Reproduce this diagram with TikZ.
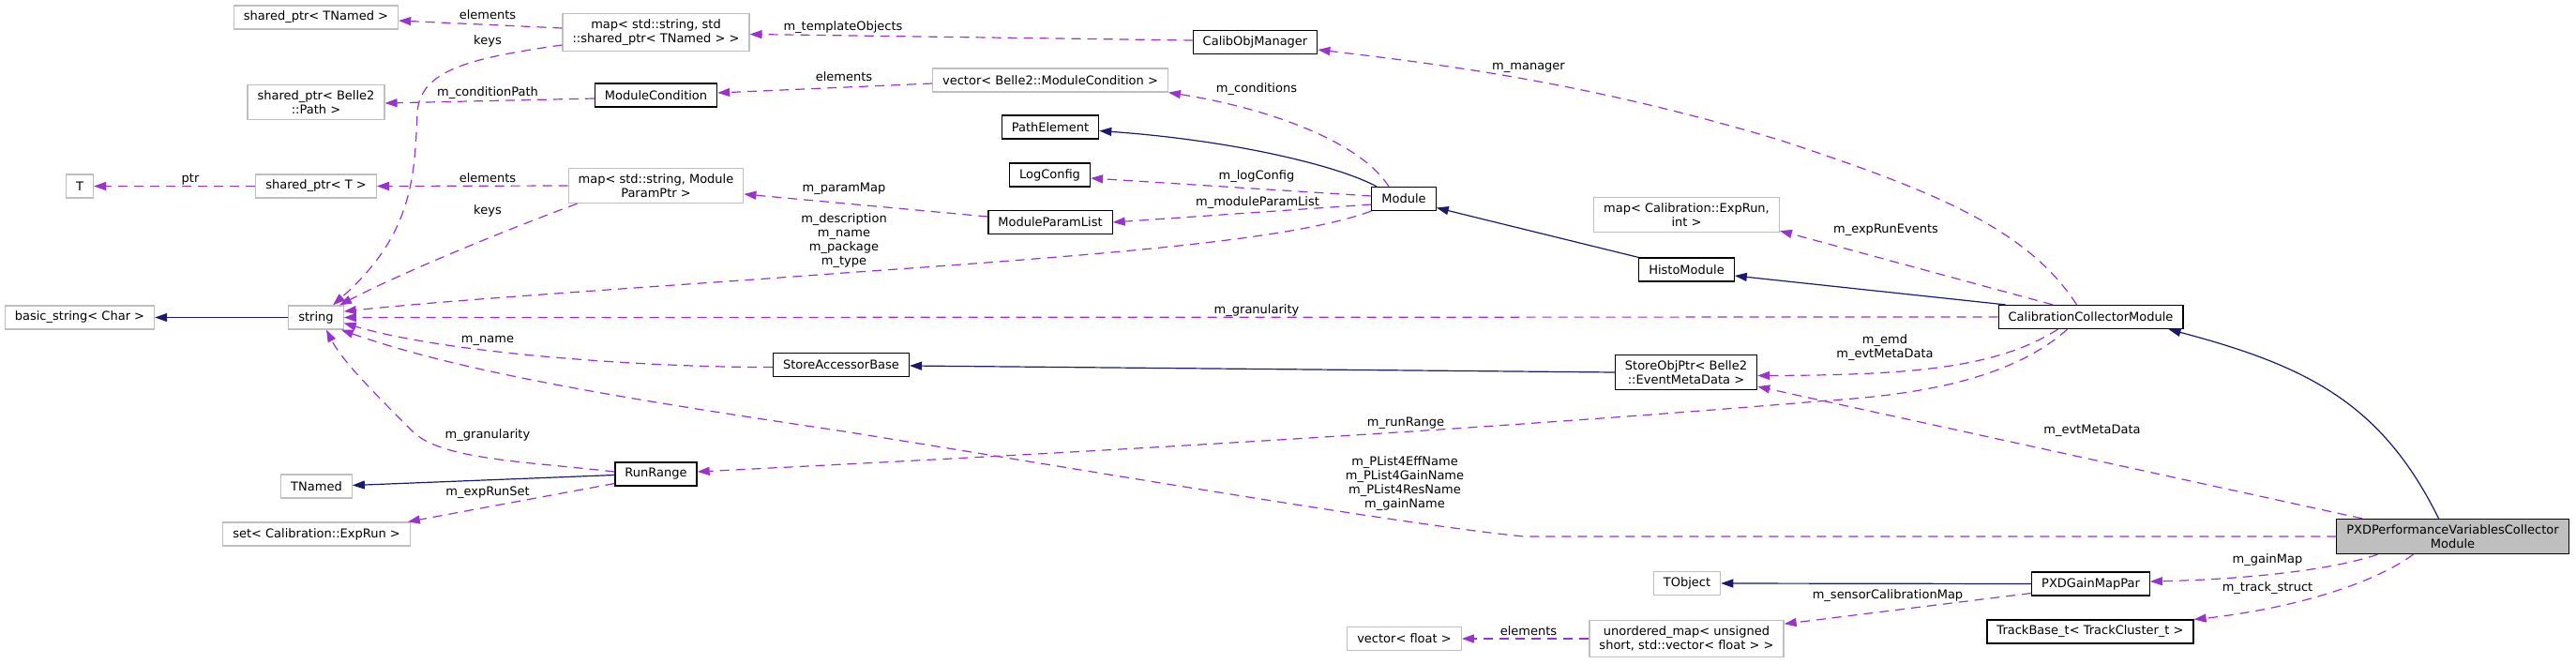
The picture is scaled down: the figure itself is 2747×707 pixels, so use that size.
\documentclass[tikz,border=0pt]{standalone}
\usepackage{fontspec}
\setmainfont{DejaVu Sans}
\usetikzlibrary{arrows.meta}
\definecolor{usecol}{HTML}{9A32CD}
\definecolor{inhcol}{HTML}{191970}
\definecolor{boxgray}{HTML}{BFBFBF}
\tikzset{
	cls/.style={draw=black, line width=1.2pt, fill=white, inner xsep=10.5pt, inner ysep=6pt, minimum height=25pt, align=center, font=\fontsize{13}{15}\selectfont},
	ext/.style={cls, draw=boxgray},
	self/.style={cls, fill=boxgray},
	uses/.style={draw=usecol, line width=1.2pt, dash pattern=on 10pt off 7pt, -{Triangle[length=13pt,width=9pt]}},
	inherits/.style={draw=inhcol, line width=1.2pt, -{Triangle[length=13pt,width=9pt]}},
	lbl/.style={inner sep=0pt, align=center, font=\fontsize{13}{15}\selectfont}
}

\begin{document}
\begin{tikzpicture}[x=1pt,y=-1pt]
	\useasboundingbox (0,0) rectangle (2747,707);
	
	\node[ext] (spTNamed) at (337,18.5) {shared\_ptr< TNamed >};
	\node[ext] (mapTNamed) at (699.5,34.5) {map< std::string, std\\::shared\_ptr< TNamed > >};
	\node[ext] (spPath) at (337,109) {shared\_ptr< Belle2\\::Path >};
	\node[cls] (modCond) at (699.5,101.5) {ModuleCondition};
	\node[ext] (vecModCond) at (1120,85.5) {vector< Belle2::ModuleCondition >};
	\node[ext] (T) at (85,198.5) {T};
	\node[ext] (spT) at (337,198.5) {shared\_ptr< T >};
	\node[ext] (mapParam) at (699.5,198) {map< std::string, Module\\ParamPtr >};
	\node[cls] (pathElem) at (1120,135.5) {PathElement};
	\node[cls] (logCfg) at (1119.5,186.5) {LogConfig};
	\node[cls] (modParamList) at (1120,237) {ModuleParamList};
	\node[cls] (calibObjMgr) at (1338.5,45) {CalibObjManager};
	\node[cls] (module) at (1497,212) {Module};
	\node[ext] (mapExpRun) at (1798.5,229) {map< Calibration::ExpRun,\\int >};
	\node[cls] (histo) at (1798.5,287.5) {HistoModule};
	\node[ext] (basicStr) at (85,338.5) {basic\_string< Char >};
	\node[ext] (str) at (337,338.5) {string};
	\node[cls] (storeAcc) at (897,389) {StoreAccessorBase};
	\node[cls] (storeObj) at (1798,397) {StoreObjPtr< Belle2\\::EventMetaData >};
	\node[cls] (ccm) at (2229.5,338) {CalibrationCollectorModule};
	\node[ext] (tnamed) at (337.5,518.5) {TNamed};
	\node[cls] (runRange) at (699.5,505.5) {RunRange};
	\node[ext] (setExpRun) at (337.5,569.5) {set< Calibration::ExpRun >};
	\node[self] (pxd) at (2615.5,572) {PXDPerformanceVariablesCollector\\Module};
	\node[cls] (gainMapPar) at (2229.5,622.5) {PXDGainMapPar};
	\node[cls] (trackBase) at (2229,673.5) {TrackBase\_t< TrackCluster\_t >};
	\node[ext] (tobject) at (1799,622) {TObject};
	\node[ext] (umap) at (1798.5,681) {unordered\_map< unsigned\\short, std::vector< float > >};
	\node[ext] (vecFloat) at (1497.5,681) {vector< float >};
	
	\draw[inherits] ([xshift=-29pt]module.north) .. controls (1430,178) and (1320,150) .. ([yshift=-4pt]pathElem.east);
	\draw[inherits] (histo.north west) -- ([yshift=-9.5pt]module.east);
	\draw[inherits] ([xshift=8pt]ccm.north west) -- ([yshift=-6.5pt]histo.east);
	\draw[inherits] ([xshift=-15pt]pxd.north) .. controls (2540,430) and (2460,390) .. ([xshift=-16pt]ccm.south east);
	\draw[inherits] (storeObj.west) -- ([yshift=-1pt]storeAcc.east);
	\draw[inherits] (str.west) -- (basicStr.east);
	\draw[inherits] ([yshift=-1pt]runRange.west) -- ([yshift=1pt]tnamed.east);
	\draw[inherits] (gainMapPar.west) -- (tobject.east);
	
	\draw[uses] ([yshift=4.5pt]mapTNamed.west) -- ([yshift=-3.5pt]spTNamed.east);
	\draw[uses] ([yshift=-13.5pt]mapTNamed.west) .. controls (500,62) and (448,75) .. (445,120) .. controls (442,190) and (440,250) .. ([xshift=18pt]str.north);
	\draw[uses] ([yshift=-3.5pt]modCond.west) -- ([yshift=-1pt]spPath.east);
	\draw[uses] ([yshift=-3.5pt]vecModCond.west) -- ([yshift=2.5pt]modCond.east);
	\draw[uses] (spT.west) -- (T.east);
	\draw[uses] (mapParam.west) -- (spT.east);
	\draw[uses] ([xshift=10pt]mapParam.south west) .. controls (540,245) and (430,290) .. ([xshift=25pt]str.north);
	\draw[uses] ([yshift=6pt]modParamList.west) -- ([yshift=-9pt]mapParam.east);
	\draw[uses] ([xshift=-15pt]ccm.north) .. controls (2160,240) and (2050,200) .. (1900,150) .. controls (1700,90) and (1550,70) .. ([yshift=-8pt]calibObjMgr.east);
	\draw[uses] ([yshift=2pt]calibObjMgr.west) -- ([yshift=-2pt]mapTNamed.east);
	\draw[uses] ([xshift=-16pt]module.north) .. controls (1450,150) and (1350,115) .. (vecModCond.south east);
	\draw[uses] ([yshift=3pt]module.west) -- ([yshift=-3.5pt]logCfg.east);
	\draw[uses] ([yshift=-6pt]module.west) -- (modParamList.east);
	\draw[uses] (module.south west) .. controls (1380,255) and (1200,270) .. (900,291) .. controls (700,306) and (500,318) .. ([yshift=6.5pt]str.east);
	\draw[uses] (ccm.west) -- (str.east);
	\draw[uses] ([yshift=-2.5pt]storeAcc.west) .. controls (700,392) and (480,378) .. ([yshift=-6pt]str.east);
	\draw[uses] ([yshift=2.5pt]runRange.west) .. controls (560,492) and (470,490) .. (440,460) .. controls (400,420) and (365,385) .. ([xshift=11pt]str.south);
	\draw[uses] ([yshift=-10pt]runRange.west) -- ([xshift=-3pt]setExpRun.north east);
	\draw[uses] ([xshift=-25pt]ccm.south) .. controls (2150,400) and (2060,420) .. (1950,427) .. controls (1500,465) and (1000,490) .. ([yshift=2.5pt]runRange.east);
	\draw[uses] ([xshift=-35pt]ccm.south) .. controls (2130,392) and (2040,400) .. ([yshift=-3.5pt]storeObj.east);
	\draw[uses] ([xshift=-96.5pt]pxd.north) -- ([yshift=4pt]storeObj.south east);
	\draw[uses] (pxd.west) -- (1625,572) .. controls (1500,560) and (1150,500) .. (900,460) .. controls (700,430) and (500,400) .. ([xshift=-3pt]str.south east);
	\draw[uses] ([xshift=-80pt]pxd.south) .. controls (2480,610) and (2380,618) .. ([yshift=2.5pt]gainMapPar.east);
	\draw[uses] ([xshift=-42pt]pxd.south) .. controls (2520,630) and (2420,652) .. (trackBase.north east);
	\draw[uses] ([yshift=-10pt]gainMapPar.west) -- ([yshift=-4pt]umap.north east);
	\draw[uses] (umap.west) -- (vecFloat.east);
	\draw[uses] ([xshift=-40.5pt]ccm.north) -- ([yshift=2pt]mapExpRun.south east);
	
	\node[lbl] (lbElems1) at (520,16) {elements};
	\node[lbl] (lbKeys1) at (520,44) {keys};
	\node[lbl] (lbCondPath) at (520,99) {m\_conditionPath};
	\node[lbl] (lbPtr) at (203,191) {ptr};
	\node[lbl] (lbElems2) at (520,190) {elements};
	\node[lbl] (lbKeys2) at (520,225) {keys};
	\node[lbl] (lbName) at (520,363) {m\_name};
	\node[lbl] (lbGran1) at (520,464) {m\_granularity};
	\node[lbl] (lbExpRunSet) at (520,525) {m\_expRunSet};
	\node[lbl] (lbTemplObj) at (899,29) {m\_templateObjects};
	\node[lbl] (lbElems3) at (900,82) {elements};
	\node[lbl] (lbParamMap) at (900,201) {m\_paramMap};
	\node[lbl] (lbDescr) at (900,257) {m\_description\\m\_name\\m\_package\\m\_type};
	\node[lbl] (lbManager) at (1630,72) {m\_manager};
	\node[lbl] (lbConditions) at (1340,95) {m\_conditions};
	\node[lbl] (lbLogConfig) at (1340,188) {m\_logConfig};
	\node[lbl] (lbModParamList) at (1341,216) {m\_moduleParamList};
	\node[lbl] (lbGran2) at (1340,331) {m\_granularity};
	\node[lbl] (lbRunRange) at (1499,451) {m\_runRange};
	\node[lbl] (lbPList) at (1498,516) {m\_PList4EffName\\m\_PList4GainName\\m\_PList4ResName\\m\_gainName};
	\node[lbl] (lbExpRunEvents) at (2011,245) {m\_expRunEvents};
	\node[lbl] (lbEmd) at (2010,371) {m\_emd\\m\_evtMetaData};
	\node[lbl] (lbEvtMeta) at (2231,459) {m\_evtMetaData};
	\node[lbl] (lbSensorMap) at (2013,635) {m\_sensorCalibrationMap};
	\node[lbl] (lbElems4) at (1630,673) {elements};
	\node[lbl] (lbGainMap) at (2418,597) {m\_gainMap};
	\node[lbl] (lbTrack) at (2418,627) {m\_track\_struct};
	
\end{tikzpicture}
\end{document}
